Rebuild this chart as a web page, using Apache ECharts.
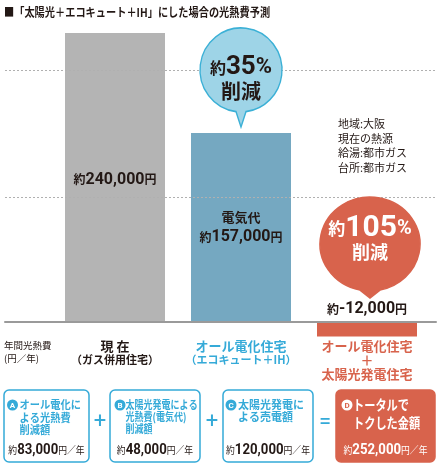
<!DOCTYPE html>
<html><head><meta charset="utf-8">
<script src="https://cdn.jsdelivr.net/npm/echarts@6/dist/echarts.min.js"></script>
<style>html,body{margin:0;padding:0;background:#fff}#c{width:440px;height:466px}</style>
</head><body><div id="c"></div>
<script>
// ---- data ----
const titleText = '■「太陽光＋エコキュート＋IH」にした場合の光熱費予測';
const categoryLines = [['現 在', '（ガス併用住宅）'], ['オール電化住宅', '（エコキュート＋IH）'], ['オール電化住宅', '＋', '太陽光発電住宅']];
const values = [240000, 157000, -12000];
const barPrefixes = ['', '電気代', ''];
const reductionPct = [null, 35, 105];
const guideValues = [104000, 209000];
const unitLabel = ['年間光熱費', '(円／年)'];
const noteLines = ['地域:大阪', '現在の熱源', '給湯:都市ガス', '台所:都市ガス'];
const breakdownLetters = ['A', 'B', 'C', 'D'];
const breakdownTitles = [['オール電化に', 'よる光熱費', '削減額'], ['太陽光発電による', '光熱費(電気代)', '削減額'], ['太陽光発電に', 'よる売電額'], ['トータルで', 'トクした金額']];
const breakdownValues = [83000, 48000, 120000, 252000];
const operators = ['+', '+', '='];

// ---- styles ----
const CJK = '"Noto Sans CJK JP", sans-serif';
const NUM = 'Roboto, "Noto Sans CJK JP", sans-serif';
const DARK = '#231815', GRAY = '#b4b4b4', STEEL = '#75a8c1', RED = '#d8634c', CYAN = '#35aad8';
const BUBBLE = '#9ed4e7', BUBBLE_EDGE = '#3bb0d6';
const barColors = [GRAY, STEEL, RED];
const catColors = [DARK, CYAN, RED];
const fmt = v => v.toLocaleString('en-US');

const categories = categoryLines.map(l => l.join('\n'));

// bubble shapes (ellipse + pointer)
const bubbleBlue = 'path://M36 83.69 A41 42 0 1 1 46 83.69 L41 99 Z';
const bubbleRed = 'path://M40 93.05 A50 47 0 1 1 60 93.05 L50 101 Z';
const bubbleSpec = [null,
  {sym: bubbleBlue, size: [82, 99], off: [0, -55.5], fill: BUBBLE, edge: BUBBLE_EDGE, txt: DARK, loff: [0, 1.5], sz: [16, 26, 22, 20]},
  {sym: bubbleRed, size: [100, 101], off: [3, -74.5], fill: RED, edge: RED, txt: '#fff', loff: [0, -8], sz: [17, 30, 20, 18]}];

const catRich = {};
categoryLines.forEach((lines, i) => lines.forEach((s, j) => {
  catRich['c' + i + '_' + j] = {
    fontFamily: CJK, fontWeight: 'bold', color: catColors[i],
    fontSize: j === 0 ? 13 : (i === 2 ? 13 : 11),
    lineHeight: j === 0 ? 15 : 13.5
  };
}));

const barRich = {
  s: {fontFamily: CJK, fontSize: 12, fontWeight: 'bold', color: DARK, lineHeight: 20},
  n: {fontFamily: NUM, fontSize: 16, fontWeight: 'bold', color: DARK, lineHeight: 20},
  k: {fontFamily: CJK, fontSize: 13, fontWeight: 'bold', color: DARK, lineHeight: 19}
};

const barData = values.map((v, i) => ({
  value: v,
  itemStyle: {color: barColors[i]},
  label: i === 2 ? {position: 'top', distance: 3} : {position: 'inside', offset: i === 0 ? [0, 2] : [0, 0]}
}));

const markData = [];
reductionPct.forEach((p, i) => {
  if (p == null) return;
  const b = bubbleSpec[i];
  markData.push({
    coord: [i, Math.max(values[i], 0)],
    value: p,
    symbol: b.sym, symbolSize: b.size, symbolOffset: b.off,
    itemStyle: {color: b.fill, borderColor: b.edge, borderWidth: 1.5},
    label: {
      show: true, position: 'inside', offset: b.loff,
      formatter: '{a|約}{b|' + p + '}{p|%}\n{d|削減}',
      rich: {
        a: {fontFamily: CJK, fontSize: b.sz[0], fontWeight: 'bold', color: b.txt, lineHeight: 25},
        b: {fontFamily: NUM, fontSize: b.sz[1], fontWeight: 'bold', color: b.txt, lineHeight: 25},
        p: {fontFamily: NUM, fontSize: b.sz[2], fontWeight: 'bold', color: b.txt, lineHeight: 25},
        d: {fontFamily: CJK, fontSize: b.sz[3], fontWeight: 'bold', color: b.txt, lineHeight: 22}
      }
    }
  });
});

// ---- graphics (title, notes, breakdown boxes) ----
const graphics = [];
graphics.push({type: 'text', x: 4, y: 12, scaleX: 0.85, style: {text: titleText, font: 'bold 12px ' + CJK, fill: DARK, verticalAlign: 'middle'}});
graphics.push({type: 'text', x: 338, y: 116.5, style: {text: noteLines.join('\n'), font: '11px ' + CJK, lineHeight: 14.7, fill: DARK}});
graphics.push({type: 'text', x: 4, y: 338.5, style: {text: unitLabel.join('\n'), font: '9.5px ' + CJK, lineHeight: 13, fill: DARK}});

const boxX = [4, 110, 223, 336], boxW = [85, 90, 90, 99];
const circX = [12.5, 120, 231, 347], textX = [19.5, 125.5, 238, 353];
const titleFont = [11, 11, 11, 14], titleScale = [0.93, 0.82, 1, 0.8], titleLH = [12.5, 12, 12, 18];
breakdownValues.forEach((v, i) => {
  const total = i === 3;
  graphics.push({type: 'rect', shape: {x: boxX[i], y: 390, width: boxW[i], height: 72, r: 5},
    style: {fill: total ? RED : '#fff', stroke: total ? RED : CYAN, lineWidth: 1.5}});
  graphics.push({type: 'circle', shape: {cx: circX[i], cy: 405, r: 5.5}, style: {fill: total ? '#fff' : CYAN}});
  graphics.push({type: 'text', x: circX[i], y: 405.5, style: {text: breakdownLetters[i], fontSize: 8, fontWeight: 'bold', fontFamily: NUM,
    fill: total ? RED : '#fff', align: 'center', verticalAlign: 'middle'}});
  graphics.push({type: 'text', x: textX[i], y: 405 - titleLH[i] / 2, scaleX: titleScale[i],
    style: {text: breakdownTitles[i].join('\n'), fontSize: titleFont[i], fontWeight: 'bold', fontFamily: CJK,
      lineHeight: titleLH[i], fill: total ? '#fff' : CYAN}});
  const c = total ? '#fff' : DARK;
  graphics.push({type: 'text', x: boxX[i] + boxW[i] / 2, y: 450, scaleX: 0.88, style: {
    text: '{s|約}{n|' + fmt(v) + '}{u|円／年}', align: 'center', verticalAlign: 'middle',
    rich: {
      s: {fontSize: 10, fontFamily: CJK, fill: c},
      n: {fontSize: 15, fontWeight: 'bold', fontFamily: NUM, fill: c},
      u: {fontSize: 10, fontFamily: CJK, fill: c}
    }}});
});
const opX = [100, 212, 325];
operators.forEach((o, i) => {
  graphics.push({type: 'text', x: opX[i], y: 422, style: {text: o, fontSize: 22, fontFamily: NUM, fill: CYAN, align: 'center', verticalAlign: 'middle'}});
});

// ---- chart ----
const chart = echarts.init(document.getElementById('c'), null, {renderer: 'canvas'});
const yMax = 260000;
const gridTop = 8.92, gridH = 313.08; // bottom edge of grids = zero line
chart.setOption({
  animation: false,
  backgroundColor: '#fff',
  textStyle: {fontFamily: CJK},
  grid: [
    {left: 52, right: 10, top: gridTop, height: gridH, containLabel: false, outerBoundsMode: 'none'},
    {left: 5, right: 4, top: gridTop, height: gridH, containLabel: false, outerBoundsMode: 'none'}
  ],
  xAxis: [
    {type: 'category', gridIndex: 0, data: categories,
      axisLine: {show: false},
      axisTick: {show: false}, splitLine: {show: false},
      axisLabel: {interval: 0, margin: 16.5,
        formatter: (val, idx) => val.split('\n').map((s, j) => '{c' + idx + '_' + j + '|' + s + '}').join('\n'),
        rich: catRich}},
    {type: 'value', gridIndex: 1, min: 0, max: 1, z: 5,
      axisLine: {show: true, onZero: false, lineStyle: {color: '#9a9a9a', width: 2}},
      axisTick: {show: false}, axisLabel: {show: false}, splitLine: {show: false}}
  ],
  yAxis: [
    {type: 'value', gridIndex: 0, min: 0, max: yMax, show: false},
    {type: 'value', gridIndex: 1, min: 0, max: yMax, show: false}
  ],
  series: [
    {type: 'line', xAxisIndex: 1, yAxisIndex: 1, data: [], z: 1, silent: true,
      markLine: {silent: true, symbol: ['none', 'none'], label: {show: false},
        lineStyle: {type: [2, 2], color: '#b0b0b0', width: 1},
        data: guideValues.map(v => ({yAxis: v}))}},
    {type: 'bar', xAxisIndex: 0, yAxisIndex: 0, z: 2, barWidth: 100, clip: false, data: barData,
      label: {show: true, rich: barRich,
        formatter: p => (barPrefixes[p.dataIndex] ? '{k|' + barPrefixes[p.dataIndex] + '}\n' : '') +
          '{s|約}{n|' + fmt(p.value) + '}{s|円}'},
      markPoint: {data: markData}}
  ],
  graphic: graphics
});
</script></body></html>
